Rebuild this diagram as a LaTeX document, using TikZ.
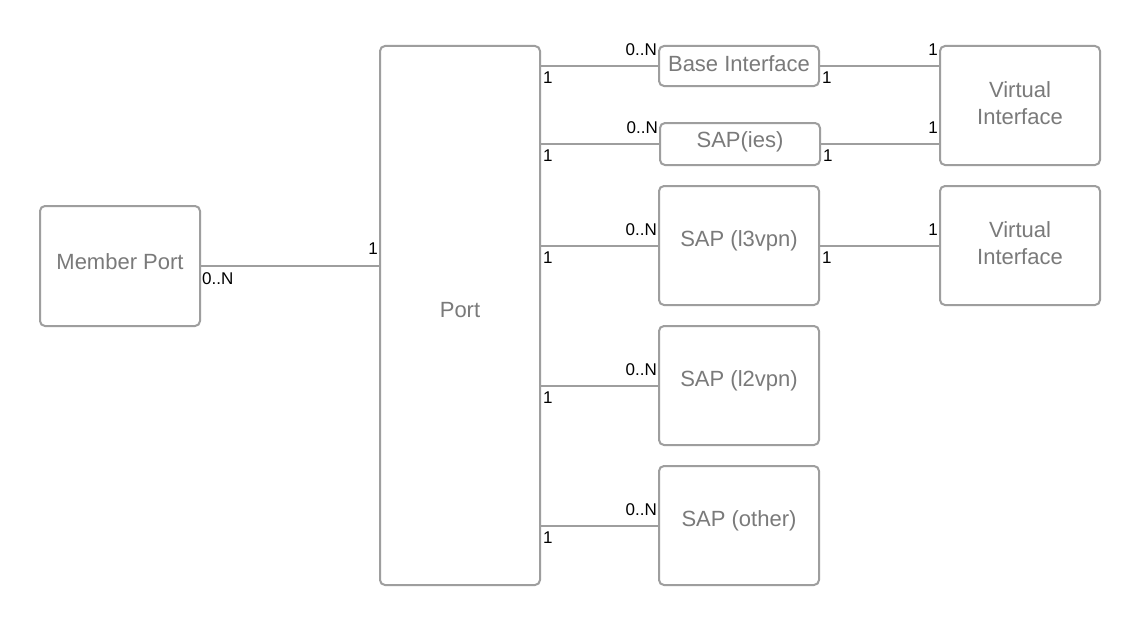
\documentclass[tikz,border=0pt]{standalone}
\usepackage{fontspec}
\setmainfont{Liberation Sans}
\usetikzlibrary{calc}
\definecolor{boxline}{HTML}{9E9E9E}
\definecolor{boxtext}{HTML}{7A7A7A}
\tikzset{
  ent/.style={draw=boxline, line width=2pt, rounded corners=5pt, rectangle, inner sep=0pt},
  etext/.style={text=boxtext, font=\fontsize{22}{27}\selectfont, align=center, inner sep=0pt},
  conn/.style={draw=boxline, line width=2pt},
  lbl/.style={inner sep=0pt, font=\fontsize{17}{18}\selectfont, text=black}
}
\begin{document}
\begin{tikzpicture}[x=1pt,y=-1pt]
\useasboundingbox (0,0) rectangle (1140,626);
\fill[white] (0,0) rectangle (1140,626);
% entities
\node[ent, minimum width=160pt, minimum height=120pt] (mp) at (120,266) {};
\node[ent, minimum width=160pt, minimum height=539pt] (port) at (460,315.5) {};
\node[ent, minimum width=160pt, minimum height=40pt] (bi) at (739,66) {};
\node[ent, minimum width=160pt, minimum height=42pt] (ies) at (740,144) {};
\node[ent, minimum width=160pt, minimum height=119pt] (l3) at (739,245.5) {};
\node[ent, minimum width=160pt, minimum height=119pt] (l2) at (739,385.5) {};
\node[ent, minimum width=160pt, minimum height=119pt] (oth) at (739,525.5) {};
\node[ent, minimum width=160pt, minimum height=119pt] (vi1) at (1020,105.5) {};
\node[ent, minimum width=160pt, minimum height=119pt] (vi2) at (1020,245.5) {};
% entity texts
\node[etext] (mptxt) at (120,262) {Member Port};
\node[etext] (porttxt) at (460,310) {Port};
\node[etext] (bitxt) at (739,64) {Base Interface};
\node[etext] (iestxt) at (740,142) {SAP(ies)};
\node[etext] (l3txt) at (739,241) {SAP (l3vpn)};
\node[etext] (l2txt) at (739,381) {SAP (l2vpn)};
\node[etext] (othtxt) at (739,521) {SAP (other)};
\node[etext] (vi1txt) at (1020,103.5) {Virtual\\Interface};
\node[etext] (vi2txt) at (1020,243.5) {Virtual\\Interface};
% connectors
\draw[conn] (mp.east) -- (mp.east -| port.west);
\draw[conn] (port.east |- bi.west) -- (bi.west);
\draw[conn] (port.east |- ies.west) -- (ies.west);
\draw[conn] (port.east |- l3.west) -- (l3.west);
\draw[conn] (port.east |- l2.west) -- (l2.west);
\draw[conn] (port.east |- oth.west) -- (oth.west);
\draw[conn] (bi.east) -- (bi.east -| vi1.west);
\draw[conn] (ies.east) -- (ies.east -| vi1.west);
\draw[conn] (l3.east) -- (l3.east -| vi2.west);
% labels
\node[lbl, anchor=north west] at ($(mp.east)+(1,6)$) {0..N};
\node[lbl, anchor=south east] at ($(mp.east -| port.west)+(-1,-11)$) {1};
\foreach \b in {bi,ies,l3,l2,oth}{
  \node[lbl, anchor=north west] at ($(port.east |- \b.west)+(2,6)$) {1};
  \node[lbl, anchor=south east] at ($(\b.west)+(-1,-10)$) {0..N};
}
\node[lbl, anchor=north west] at ($(bi.east)+(2,6)$) {1};
\node[lbl, anchor=north west] at ($(ies.east)+(2,6)$) {1};
\node[lbl, anchor=north west] at ($(l3.east)+(2,6)$) {1};
\node[lbl, anchor=south east] at ($(bi.east -| vi1.west)+(-1,-10)$) {1};
\node[lbl, anchor=south east] at ($(ies.east -| vi1.west)+(-1,-10)$) {1};
\node[lbl, anchor=south east] at ($(l3.east -| vi2.west)+(-1,-10)$) {1};
\end{tikzpicture}
\end{document}
